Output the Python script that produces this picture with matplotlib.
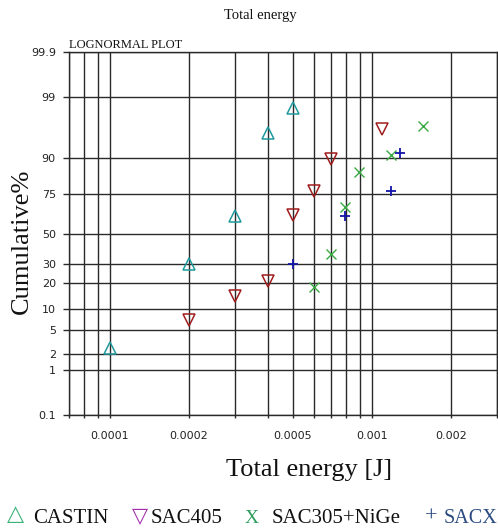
import numpy as np
import matplotlib
matplotlib.use("Agg")
import matplotlib.pyplot as plt
from statistics import NormalDist

# ---- data: total energy [J] vs cumulative failure percentage ----
castin_energy = [0.0001, 0.0002, 0.0003, 0.0004, 0.0005]
castin_cum = [2.6, 30.0, 62.0, 95.6, 98.4]

sac405_energy = [0.0002, 0.0003, 0.0004, 0.0005, 0.0006, 0.0007, 0.00109]
sac405_cum = [7.0, 14.2, 20.9, 62.4, 76.3, 89.7, 96.2]

nige_energy = [0.0006, 0.0007, 0.00079, 0.00089, 0.00118, 0.00157]
nige_cum = [18.1, 36.6, 67.2, 85.1, 90.8, 96.7]

sacx_energy = [0.0005, 0.00079, 0.00118, 0.00128]
sacx_cum = [30.4, 61.9, 76.4, 91.4]

x_major = [0.0001, 0.0002, 0.0005, 0.001, 0.002]
x_major_labels = ["0.0001", "0.0002", "0.0005", "0.001", "0.002"]
x_minor = [0.00007, 0.00008, 0.00009, 0.0003, 0.0004, 0.0006, 0.0007,
           0.0008, 0.0009, 0.003]
y_ticks = [0.1, 1, 2, 5, 10, 20, 30, 50, 75, 90, 99, 99.9]
y_tick_labels = ["0.1", "1", "2", "5", "10", "20", "30", "50", "75", "90",
                 "99", "99.9"]

# ---- normal-probability axis ----
_nd = NormalDist()
_ppf = np.vectorize(lambda p: _nd.inv_cdf(min(max(p / 100.0, 1e-9), 1 - 1e-9)),
                    otypes=[float])
_cdf = np.vectorize(lambda z: _nd.cdf(z) * 100.0, otypes=[float])


def prob_forward(p):
    return _ppf(np.asarray(p, dtype=float))


def prob_inverse(z):
    return _cdf(np.asarray(z, dtype=float))


W, H = 498, 529
fig = plt.figure(figsize=(W / 100, H / 100), dpi=100)
fig.patch.set_facecolor("white")

left, right, top, bottom = 69, 497, 52, 415
ax = fig.add_axes([left / W, 1 - bottom / H, (right - left) / W, (bottom - top) / H])

ax.set_xscale("log")
ax.set_yscale("function", functions=(prob_forward, prob_inverse))
ax.set_xlim(0.00007, 0.003)
ax.set_ylim(0.1, 99.9)

grid_col = "#2a2a2a"
ax.set_xticks(x_major)
ax.set_xticklabels(x_major_labels)
ax.set_xticks(x_minor, minor=True)
ax.set_xticklabels([], minor=True)
ax.set_yticks(y_ticks)
ax.set_yticklabels(y_tick_labels)
ax.set_yticks([], minor=True)

ax.grid(True, which="both", axis="x", color=grid_col, linewidth=1.0)
ax.grid(True, which="major", axis="y", color=grid_col, linewidth=1.0)
ax.set_axisbelow(True)

for s in ax.spines.values():
    s.set_color(grid_col)
    s.set_linewidth(1.0)

ax.tick_params(axis="x", which="both", length=2.5, width=1.0, color=grid_col,
               pad=9, labelsize=8, labelcolor="#222222")
ax.tick_params(axis="y", which="major", length=4.5, width=1.0, color=grid_col,
               pad=5, labelsize=8, labelcolor="#222222")
for lab in ax.get_xticklabels() + ax.get_yticklabels():
    lab.set_family("DejaVu Sans")

# ---- data markers ----
ax.plot(castin_energy, castin_cum, linestyle="none", marker="^", ms=8,
        mfc="none", mec="#1f9a9e", mew=1.1, zorder=3)
ax.plot(sac405_energy, sac405_cum, linestyle="none", marker="v", ms=8,
        mfc="none", mec="#a01c1c", mew=1.1, zorder=3)
ax.plot(nige_energy, nige_cum, linestyle="none", marker="x", ms=7,
        mec="#3caa44", mew=1.0, zorder=3)
ax.plot(sacx_energy, sacx_cum, linestyle="none", marker="+", ms=7,
        mec="#1414a8", mew=1.3, zorder=3)

serif = ["Liberation Serif", "DejaVu Serif"]

# ---- titles and axis labels ----
fig.text(260 / W, 1 - 15 / H, "Total energy", ha="center", va="center",
         family=serif, fontsize=10.5, color="#111111")
fig.text(69 / W, 1 - 48 / H, "LOGNORMAL PLOT", ha="left", va="baseline",
         family=serif, fontsize=9, color="#111111")
fig.text(309 / W, 1 - 476 / H, "Total energy [J]", ha="center", va="baseline",
         family=serif, fontsize=19, color="#111111")
fig.text(22 / W, 1 - 241 / H, "Cumulative%", ha="center", va="center",
         rotation=90, family=serif, fontsize=19, color="#111111")

# ---- legend row built from text glyphs ----
sym_font = ["DejaVu Sans", "Liberation Serif"]
legend_items = [
    (7, 520, "\u25B3", "#3cb37a", sym_font, 16),
    (33, 523, "CASTIN", "#111111", serif, 15),
    (132, 522, "\u25BD", "#a02aa8", sym_font, 15),
    (151, 523, "SAC405", "#111111", serif, 15),
    (245, 523, "X", "#2e9e5e", serif, 14),
    (272, 523, "SAC305+NiGe", "#111111", serif, 15),
    (425, 522, "+", "#2a4a80", serif, 16),
    (444, 523, "SACX", "#2a4a80", serif, 14.5),
]
for x, y, txt, col, fam, fs in legend_items:
    fig.text(x / W, 1 - y / H, txt, ha="left", va="baseline", family=fam,
             fontsize=fs, color=col)

fig.savefig("out.png", dpi=100, facecolor="white")
